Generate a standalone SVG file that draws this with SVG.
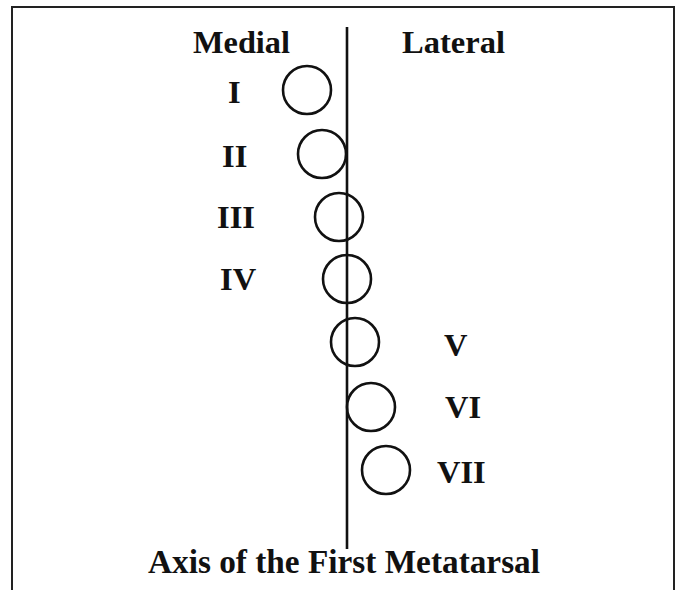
<svg xmlns="http://www.w3.org/2000/svg" width="683" height="590" viewBox="0 0 683 590">
<style>
text{font-family:"Liberation Serif","Times New Roman",serif;font-weight:bold;font-size:32.5px;fill:#111}
.c{fill:none;stroke:#111;stroke-width:2.6}
.ax{stroke:#111;stroke-width:2.6}
</style>
<rect width="683" height="590" fill="#fff"/>
<path d="M12,592 V7 H674 V592" fill="none" stroke="#222" stroke-width="2"/>
<text x="193" y="53" textLength="97" lengthAdjust="spacingAndGlyphs">Medial</text>
<text x="402" y="53" textLength="103" lengthAdjust="spacingAndGlyphs">Lateral</text>
<g id="axis-group"><line class="ax" x1="347" y1="27" x2="347" y2="549"/></g>
<g id="n1"><circle class="c" cx="307" cy="90" r="24"/><text x="228" y="103">I</text></g>
<g id="n2"><circle class="c" cx="322" cy="154" r="24"/><text x="222" y="167">II</text></g>
<g id="n3"><circle class="c" cx="339" cy="217" r="24"/><text x="217" y="228">III</text></g>
<g id="n4"><circle class="c" cx="347" cy="279" r="24"/><text x="220" y="290">IV</text></g>
<g id="n5"><circle class="c" cx="355" cy="342" r="24"/><text x="444" y="356">V</text></g>
<g id="n6"><circle class="c" cx="371" cy="407" r="24"/><text x="445" y="418">VI</text></g>
<g id="n7"><circle class="c" cx="386" cy="470" r="24"/><text x="437" y="483">VII</text></g>
<text x="148" y="573" style="font-size:33px" textLength="392" lengthAdjust="spacingAndGlyphs">Axis of the First Metatarsal</text>
</svg>
